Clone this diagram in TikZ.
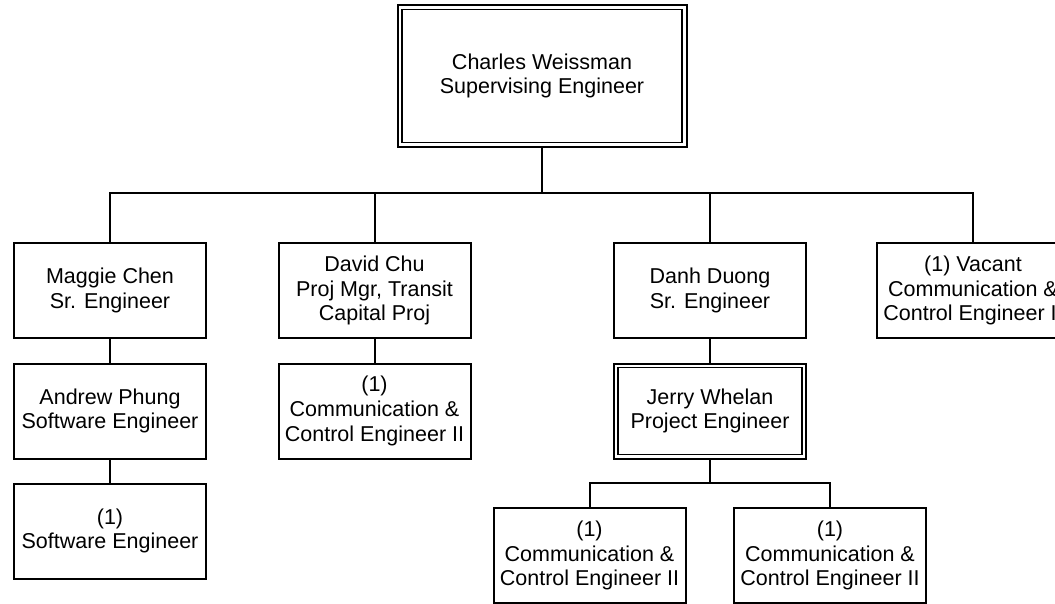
\documentclass[tikz,border=0pt]{standalone}
\usepackage{fontspec}
\setmainfont{Liberation Sans}
\begin{document}
\begin{tikzpicture}[x=1pt,y=-1pt,
  box/.style={draw, line width=2pt, minimum width=192pt, minimum height=95pt,
    align=center, inner sep=0pt, font=\fontsize{21.5}{24.7}\selectfont},
  inner/.style={draw, line width=1.3pt},
  conn/.style={draw, line width=2pt}]
\clip (0,0) rectangle (1055,604);
\fill[white] (0,0) rectangle (1055,604);
% nodes
\node[box, minimum width=289pt, minimum height=142pt] (top) at (542,76) {Charles Weissman\\Supervising Engineer};
\node[box] (maggie) at (110,290.5) {Maggie Chen\\Sr. Engineer};
\node[box] (david) at (374.5,290.5) {David Chu\\Proj Mgr, Transit\\Capital Proj};
\node[box] (danh) at (710,290.5) {Danh Duong\\Sr. Engineer};
\node[box] (vacant) at (973,290.5) {(1) Vacant\\Communication \&\\Control Engineer II};
\node[box] (andrew) at (110,411) {Andrew Phung\\Software Engineer};
\node[box] (dcomm) at (374.5,411) {(1)\\Communication \&\\Control Engineer II};
\node[box] (jerry) at (710,411) {Jerry Whelan\\Project Engineer};
\node[box] (soft) at (110,531) {(1)\\Software Engineer};
\node[box] (cl) at (589.5,555.5) {(1)\\Communication \&\\Control Engineer II};
\node[box] (cr) at (830,555.5) {(1)\\Communication \&\\Control Engineer II};
% inner lines of double borders
\draw[inner] ([shift={(5.5pt,-5.5pt)}]top.north west) rectangle ([shift={(-5.5pt,5.5pt)}]top.south east);
\draw[inner] ([shift={(5pt,-5pt)}]jerry.north west) rectangle ([shift={(-5pt,5pt)}]jerry.south east);
% connectors
\coordinate (b1) at (542,193);
\coordinate (b2) at (710,483);
\draw[conn] (top.south) -- (b1);
\draw[conn] (maggie.north) |- (b1);
\draw[conn] (vacant.north) |- (b1);
\draw[conn] (david.north) -- (david.north |- b1);
\draw[conn] (danh.north) -- (danh.north |- b1);
\draw[conn] (maggie.south) -- (andrew.north);
\draw[conn] (andrew.south) -- (soft.north);
\draw[conn] (david.south) -- (dcomm.north);
\draw[conn] (danh.south) -- (jerry.north);
\draw[conn] (jerry.south) -- (b2);
\draw[conn] (cl.north) |- (b2);
\draw[conn] (cr.north) |- (b2);
\end{tikzpicture}
\end{document}
